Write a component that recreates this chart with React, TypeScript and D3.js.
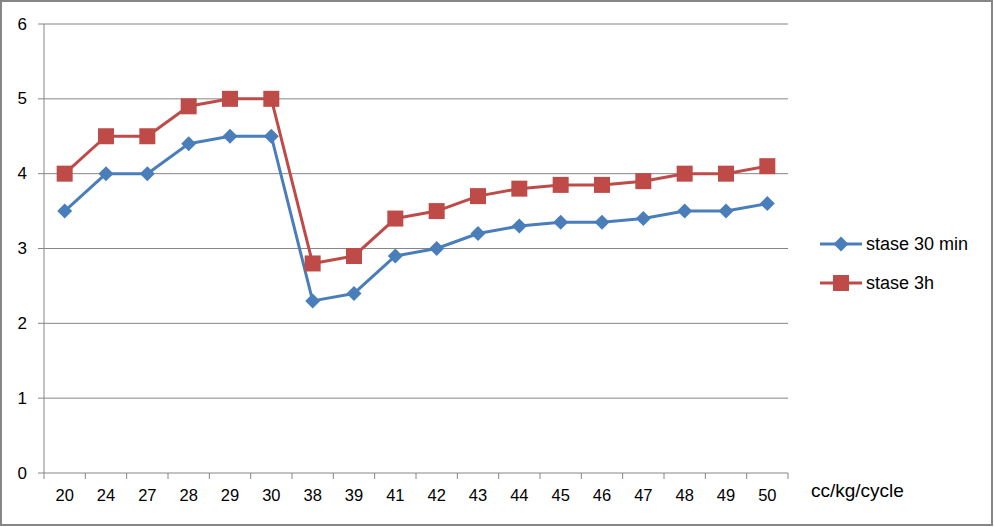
import React from "react";
import * as d3 from "d3";

const categories = ["20","24","27","28","29","30","38","39","41","42","43","44","45","46","47","48","49","50"];
const stase30 = [3.5,4,4,4.4,4.5,4.5,2.3,2.4,2.9,3.0,3.2,3.3,3.35,3.35,3.4,3.5,3.5,3.6];
const stase3h = [4,4.5,4.5,4.9,5,5,2.8,2.9,3.4,3.5,3.7,3.8,3.85,3.85,3.9,4,4,4.1];
const yTicks = [0,1,2,3,4,5,6];
const seriesNames = ["stase 30 min", "stase 3h"];

const W = 994, H = 527;
const FONT = "'Liberation Sans', Arial, sans-serif";

export default function App() {
  const x = d3.scaleBand<string>().domain(categories).range([44, 788]);
  const y = d3.scaleLinear().domain([0, 6]).range([473, 24]);
  const line = d3.line<number>()
    .x((_, i) => (x(categories[i]) as number) + x.bandwidth() / 2)
    .y((d) => y(d));
  const blue = "#4A7EBB", red = "#BE4B48", grid = "#868686";
  const diamond = (cx: number, cy: number, r = 7.5) =>
    `M${cx},${cy - r}L${cx + r},${cy}L${cx},${cy + r}L${cx - r},${cy}Z`;
  const xTickPos = [...categories.map((c) => x(c) as number), 788];

  return (
    <svg width={W} height={H} style={{ position: "absolute", left: 0, top: 0, background: "#fff" }}>
      <rect x={1} y={1} width={W - 3} height={H - 3} fill="#fff" stroke={grid} strokeWidth={2} />
      {yTicks.map((t) => (
        <g key={t}>
          {t > 0 && <line x1={44} x2={788} y1={y(t)} y2={y(t)} stroke={grid} strokeWidth={1} />}
          <line x1={38} x2={44} y1={y(t)} y2={y(t)} stroke={grid} />
          <text x={27} y={y(t)} textAnchor="end" dominantBaseline="central" fontFamily={FONT} fontSize={17} fill="#000">{t}</text>
        </g>
      ))}
      <line x1={44} x2={44} y1={24} y2={473} stroke={grid} />
      <line x1={44} x2={788} y1={473} y2={473} stroke={grid} />
      {xTickPos.map((p, i) => (
        <line key={i} x1={p} x2={p} y1={473} y2={479} stroke={grid} />
      ))}
      {categories.map((c) => (
        <text key={c} x={(x(c) as number) + x.bandwidth() / 2} y={495} textAnchor="middle" dominantBaseline="central" fontFamily={FONT} fontSize={16.5} fill="#000">{c}</text>
      ))}
      <text x={811} y={490} dominantBaseline="central" fontFamily={FONT} fontSize={19} fill="#000">cc/kg/cycle</text>

      <path d={line(stase30) || ""} fill="none" stroke={blue} strokeWidth={3} strokeLinejoin="round" />
      <path d={line(stase3h) || ""} fill="none" stroke={red} strokeWidth={3} strokeLinejoin="round" />
      {stase30.map((v, i) => (
        <path key={i} d={diamond((x(categories[i]) as number) + x.bandwidth() / 2, y(v))} fill={blue} />
      ))}
      {stase3h.map((v, i) => (
        <rect key={i} x={(x(categories[i]) as number) + x.bandwidth() / 2 - 8} y={y(v) - 8} width={16} height={16} fill={red} />
      ))}

      <g>
        <line x1={820} x2={862} y1={244} y2={244} stroke={blue} strokeWidth={3} />
        <path d={diamond(841, 244)} fill={blue} />
        <text x={866} y={244} dominantBaseline="central" fontFamily={FONT} fontSize={18} fill="#000">{seriesNames[0]}</text>
        <line x1={820} x2={862} y1={283} y2={283} stroke={red} strokeWidth={3} />
        <rect x={833} y={275} width={16} height={16} fill={red} />
        <text x={866} y={283} dominantBaseline="central" fontFamily={FONT} fontSize={18} fill="#000">{seriesNames[1]}</text>
      </g>
    </svg>
  );
}
